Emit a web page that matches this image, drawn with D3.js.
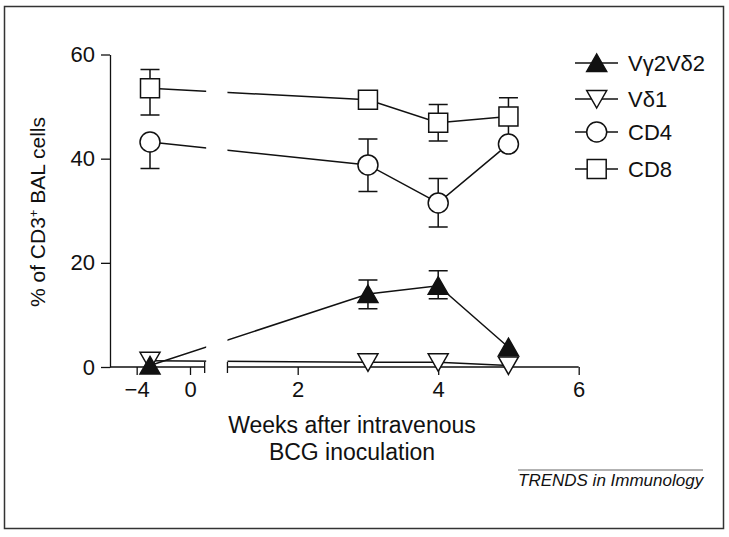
<!DOCTYPE html>
<html>
<head>
<meta charset="utf-8">
<script src="https://cdn.jsdelivr.net/npm/d3@7"></script>
<style>
  body { margin: 0; background: #fff; }
  text { font-family: "Liberation Sans", Arial, Helvetica, sans-serif; fill: #111; }
</style>
</head>
<body>
<div id="chart"></div>
<script>
// weeks after inoculation (x) and mean % of CD3+ cells
var weeks = [-3, 3, 4, 5];
var vg2vd2 = [0.3, 14.0, 15.6, 3.8];
var vd1 = [1.2, 0.9, 0.9, 0.3];
var cd4 = [43.2, 38.8, 31.5, 42.8];
var cd8 = [53.5, 51.3, 46.9, 48.1];

// error bars [low, high], null where nothing shows
var vg2vd2Err = [null, [11.2, 16.7], [13.1, 18.5], null];
var cd4Err = [[38.1, 43.2], [33.7, 43.8], [26.9, 36.2], null];
var cd8Err = [[48.4, 57.1], null, [43.4, 50.4], [42.8, 51.7]];

var yTicks = [0, 20, 40, 60];
var xTicksLeft = [-4, 0];
var xTicksRight = [2, 4, 6];

var seriesNames = ["V\u03b32V\u03b42", "V\u03b41", "CD4", "CD8"];

var width = 729, height = 537;

var svg = d3.select("#chart").append("svg")
  .attr("width", width)
  .attr("height", height);

// outer frame
svg.append("rect")
  .attr("x", 4.5).attr("y", 6.5)
  .attr("width", 719).attr("height", 522)
  .attr("fill", "none")
  .attr("stroke", "#333")
  .attr("stroke-width", 1.5);

// scales - broken x axis, two pieces
var y = d3.scaleLinear().domain([0, 60]).range([367, 54.5]);
var xLeft = d3.scaleLinear().domain([-6, 0]).range([110, 190]);
var xRight = d3.scaleLinear().domain([2, 6]).range([297.7, 578.7]);
function x(w) { return w <= 1 ? xLeft(w) : xRight(w); }

var breakStart = xLeft(1.1), breakEnd = xRight(1.0);
var fmt = d3.format("d");

// y axis
var yAxis = svg.append("g")
  .attr("transform", "translate(110,0)")
  .call(d3.axisLeft(y).tickValues(yTicks).tickFormat(fmt).tickSize(9).tickSizeOuter(0).tickPadding(6));

// x axis, left piece
var axL = svg.append("g")
  .attr("transform", "translate(0,367)")
  .call(d3.axisBottom(xLeft).tickValues(xTicksLeft).tickFormat(fmt).tickSize(8).tickSizeOuter(0).tickPadding(6));
axL.select(".domain").remove();
axL.append("path")
  .attr("d", "M110,0H" + breakStart + "M" + breakStart + ",-5V6")
  .attr("stroke", "#111").attr("fill", "none");

// x axis, right piece
var axR = svg.append("g")
  .attr("transform", "translate(0,367)")
  .call(d3.axisBottom(xRight).tickValues(xTicksRight).tickFormat(fmt).tickSize(8).tickSizeOuter(0).tickPadding(6));
axR.select(".domain").remove();
axR.append("path")
  .attr("d", "M" + breakEnd + ",6V-5M" + breakEnd + ",0H" + xRight(6))
  .attr("stroke", "#111").attr("fill", "none");

svg.selectAll(".tick line").attr("stroke", "#111").attr("stroke-width", 1.3);
svg.selectAll(".tick text").style("font-size", "22px").style("font-family", "Liberation Sans, Arial, sans-serif").attr("fill", "#111");
yAxis.select(".domain").attr("stroke", "#111").attr("stroke-width", 1.3);
axL.selectAll("path").attr("stroke-width", 1.3);
axR.selectAll("path").attr("stroke-width", 1.3);

// axis titles
svg.append("text")
  .attr("transform", "translate(45,212) rotate(-90)")
  .attr("text-anchor", "middle")
  .style("font-size", "21px")
  .html('% of CD3<tspan dy="-7" font-size="13px">+</tspan><tspan dy="7"> BAL cells</tspan>');

svg.append("text")
  .attr("x", 352).attr("y", 433)
  .attr("text-anchor", "middle")
  .style("font-size", "23px")
  .text("Weeks after intravenous");
svg.append("text")
  .attr("x", 352).attr("y", 460)
  .attr("text-anchor", "middle")
  .style("font-size", "23px")
  .text("BCG inoculation");

// clip that removes the axis break region from the lines
var clip = svg.append("clipPath").attr("id", "gap");
clip.append("rect").attr("x", 0).attr("y", 0).attr("width", breakStart + 1.5).attr("height", height);
clip.append("rect").attr("x", breakEnd).attr("y", 0).attr("width", width - breakEnd).attr("height", height);

// marker shapes
function markerPath(kind) {
  if (kind == "up") return "M0,-9L10,8.5L-10,8.5Z";
  if (kind == "down") return "M0,9L10,-8.5L-10,-8.5Z";
  if (kind == "square") return "M-9.5,-9.5H9.5V9.5H-9.5Z";
  return d3.symbol().type(d3.symbolCircle).size(Math.PI * 10 * 10)();
}

var series = [
  { name: seriesNames[3], values: cd8, err: cd8Err, kind: "square", fill: "#fff" },
  { name: seriesNames[2], values: cd4, err: cd4Err, kind: "circle", fill: "#fff" },
  { name: seriesNames[1], values: vd1, err: null, kind: "down", fill: "#fff" },
  { name: seriesNames[0], values: vg2vd2, err: vg2vd2Err, kind: "up", fill: "#111" }
];

var line = d3.line()
  .x(function(d, i) { return x(weeks[i]); })
  .y(function(d) { return y(d); });

series.forEach(function(s) {
  var g = svg.append("g");
  // error bars
  if (s.err) {
    s.err.forEach(function(e, i) {
      if (!e) return;
      var cx = x(weeks[i]);
      g.append("path")
        .attr("d", "M" + cx + "," + y(e[0]) + "V" + y(e[1]) +
          "M" + (cx - 9.5) + "," + y(e[0]) + "H" + (cx + 9.5) +
          "M" + (cx - 9.5) + "," + y(e[1]) + "H" + (cx + 9.5))
        .attr("stroke", "#111").attr("stroke-width", 1.5).attr("fill", "none");
    });
  }
  g.append("path")
    .datum(s.values)
    .attr("d", line)
    .attr("clip-path", "url(#gap)")
    .attr("fill", "none")
    .attr("stroke", "#111")
    .attr("stroke-width", 1.5);
  g.selectAll(".mk")
    .data(s.values)
    .enter()
    .append("path")
    .attr("transform", function(d, i) { return "translate(" + x(weeks[i]) + "," + y(d) + ")"; })
    .attr("d", markerPath(s.kind))
    .attr("fill", s.fill)
    .attr("stroke", "#111")
    .attr("stroke-width", 1.5);
});

// legend
var legendY = [63, 99, 132, 169];
var legendKinds = ["up", "down", "circle", "square"];
var legendFills = ["#111", "#fff", "#fff", "#fff"];
seriesNames.forEach(function(name, i) {
  var g = svg.append("g").attr("transform", "translate(0," + legendY[i] + ")");
  g.append("line")
    .attr("x1", 575).attr("x2", 618)
    .attr("stroke", "#111").attr("stroke-width", 1.5);
  g.append("path")
    .attr("transform", "translate(596.7,0)")
    .attr("d", markerPath(legendKinds[i]))
    .attr("fill", legendFills[i])
    .attr("stroke", "#111").attr("stroke-width", 1.5);
  g.append("text")
    .attr("x", 628).attr("y", 8)
    .style("font-size", "22px")
    .text(name);
});

// journal credit
svg.append("line")
  .attr("x1", 518).attr("x2", 703)
  .attr("y1", 470).attr("y2", 470)
  .attr("stroke", "#999").attr("stroke-width", 1.5);
svg.append("text")
  .attr("x", 518).attr("y", 486)
  .style("font-size", "17px")
  .style("font-style", "italic")
  .text("TRENDS in Immunology");
</script>
</body>
</html>
